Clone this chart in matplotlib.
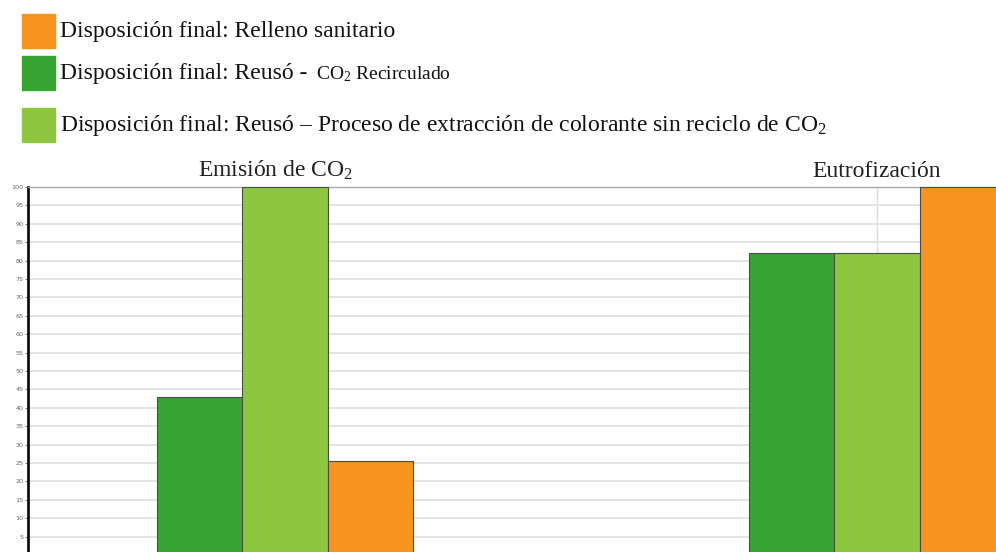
import matplotlib.pyplot as plt
import numpy as np
from matplotlib.patches import Rectangle

plt.rcParams['mathtext.fontset'] = 'custom'
plt.rcParams['mathtext.rm'] = 'Liberation Serif'
plt.rcParams['mathtext.it'] = 'Liberation Serif:italic'

categories = ["Emisión de CO$_\\mathrm{2}$", "Eutrofización"]
reuso_co2 = [43, 82]
reuso_sin = [100, 82]
relleno = [25.5, 100]

labels = ["Disposición final: Relleno sanitario",
          "Disposición final: Reusó - ",
          "Disposición final: Reusó – Proceso de extracción de colorante sin reciclo de CO$_\\mathrm{2}$"]
colors = ["#F7941D", "#36A532", "#8DC63F"]

W, H = 996, 552
fig = plt.figure(figsize=(W / 100, H / 100), dpi=100)

# axes placed in pixel terms: left edge 28, top 187, zero line just below the image
ax = fig.add_axes([28 / W, -3 / H, (W - 28) / W, (555 - 187) / H])
ax.set_ylim(0, 100)
ax.set_xlim(-0.434, 1.201)

x = np.arange(len(categories))
bw = 0.1444
series = [(reuso_co2, colors[1]), (reuso_sin, colors[2]), (relleno, colors[0])]
for i, (vals, c) in enumerate(series):
    ax.bar(x + (i - 1) * bw, vals, bw, color=c, edgecolor="#4a4a4a",
           linewidth=0.8, zorder=3)

ax.set_yticks(np.arange(5, 101, 5))
ax.set_yticklabels([str(v) for v in range(5, 101, 5)], fontsize=4.6,
                   color="#666666")
ax.tick_params(axis="y", length=2, width=0.6, pad=1, color="#666666")
ax.set_xticks(x)
ax.tick_params(axis="x", length=0, labelbottom=False)
ax.grid(axis="y", color="#e3e3e3", linewidth=1.4, zorder=0)
ax.grid(axis="x", color="#dddddd", linewidth=1.0, zorder=0)
ax.set_axisbelow(True)

for s in ["right", "bottom"]:
    ax.spines[s].set_visible(False)
ax.spines["left"].set_linewidth(2)
ax.spines["left"].set_color("#111111")
ax.spines["top"].set_color("#aaaaaa")
ax.spines["top"].set_linewidth(1.0)

for xi, cat in zip(x, categories):
    ax.text(xi - 0.015 * (xi == 0), 101.3, cat, ha="center", va="bottom",
            fontsize=17, family="Liberation Serif", color="#222222")

# legend drawn at top
rows = [31, 73, 125]
for lab, c, yc in zip(labels, colors, rows):
    fig.patches.append(Rectangle((22 / W, 1 - (yc + 17) / H), 33 / W, 34 / H,
                                 transform=fig.transFigure, color=c))
    fig.text(60 / W, 1 - (yc + 1) / H, lab, ha="left", va="center", fontsize=17,
             family="Liberation Serif", color="#111111")
fig.text(316 / W, 1 - 74 / H, "CO$_\\mathrm{2}$ Recirculado", ha="left",
         va="center", fontsize=14, family="Liberation Serif", color="#111111")

fig.savefig("out.png", dpi=100)
